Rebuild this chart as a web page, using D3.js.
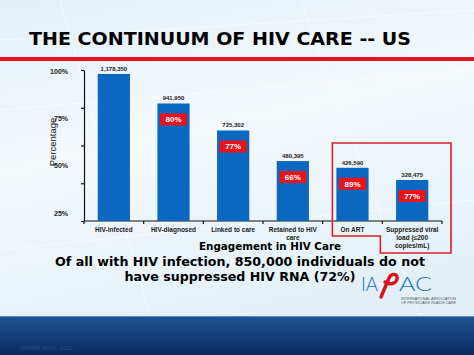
<!DOCTYPE html>
<html><head><meta charset="utf-8">
<script src="https://cdn.jsdelivr.net/npm/d3@7"></script>
<style>html,body{margin:0;padding:0;background:#fff;}svg{display:block;}</style>
</head><body>
<svg id="c" width="474" height="355"></svg>
<script>
// ---- data ----
const categories = ["HIV-infected","HIV-diagnosed","Linked to care","Retained to HIV care","On ART","Suppressed viral load (≤200 copies/mL)"];
const categoryLines = [["HIV-infected"],["HIV-diagnosed"],["Linked to care"],["Retained to HIV","care"],["On ART"],["Suppressed viral","load (≤200","copies/mL)"]];
const counts = [1178350, 941950, 725302, 480395, 426590, 328475];
const stepPercents = ["", "80%", "77%", "66%", "89%", "77%"];
const yTickLabels = ["25%", "50%", "75%", "100%"];
const yTickLabelValues = [0.25, 0.5, 0.75, 1.0];
const titleText = "THE CONTINUUM OF HIV CARE -- US";
const xTitle = "Engagement in HIV Care";
const yTitle = "Percentage";
const noteLines = ["Of all with HIV infection, 850,000 individuals do not", "have suppressed HIV RNA (72%)"];
const sourceText = "MMWR 60(6), 2011";

// ---- layout ----
const svg = d3.select("#c");
const W = 474, H = 355;
const defs = svg.append("defs");
const bg = defs.append("linearGradient").attr("id","bg").attr("x1",0).attr("y1",0).attr("x2",0.3).attr("y2",1);
bg.append("stop").attr("offset","0").attr("stop-color","#e3eff7");
bg.append("stop").attr("offset","0.45").attr("stop-color","#f4f9fc");
bg.append("stop").attr("offset","1").attr("stop-color","#e2eff7");
const ft = defs.append("linearGradient").attr("id","ft").attr("x1",0).attr("y1",0).attr("x2",0).attr("y2",1);
ft.append("stop").attr("offset","0").attr("stop-color","#1d5597");
ft.append("stop").attr("offset","1").attr("stop-color","#0b2a5e");

svg.append("rect").attr("width",W).attr("height",H).attr("fill","url(#bg)");
// faint background lines
const bgLines = svg.append("g").attr("stroke","#ffffff").attr("stroke-opacity",0.6).attr("stroke-width",1);
[[0,40,474,10],[0,110,474,70],[60,0,150,316],[300,0,420,316],[0,250,474,200]].forEach(l=>{
  bgLines.append("line").attr("x1",l[0]).attr("y1",l[1]).attr("x2",l[2]).attr("y2",l[3]);
});

// title
svg.append("text").attr("x",29).attr("y",45).text(titleText)
  .attr("font-family","DejaVu Sans, Liberation Sans, sans-serif").attr("font-weight","bold")
  .attr("font-size",18).attr("fill","#000").attr("textLength",382).attr("lengthAdjust","spacingAndGlyphs");
svg.append("rect").attr("x",0).attr("y",57).attr("width",W).attr("height",4).attr("fill","#e2171f");

// scales
const x0 = 84, x1 = 442, yBase = 221, yTop = 70;
const yMax = 1.027;
const x = d3.scaleBand().domain(categories).range([x0, x1]).paddingInner(0.46).paddingOuter(0.23);
const y = d3.scaleLinear().domain([0, yMax]).range([yBase, yTop]);
const labelY = d3.scaleLinear().domain([0.25, 1]).range([213, 71]);
const share = counts.map(c => c / counts[0]);

// y axis
const yAxis = d3.axisLeft(y).tickValues(d3.range(5).map(i => i * yMax / 4)).tickSize(3).tickSizeOuter(0).tickFormat("");
const gy = svg.append("g").attr("transform",`translate(${x0},0)`).call(yAxis);
gy.selectAll("path,line").attr("stroke","#111").attr("stroke-width",1.2);
const yLab = d3.axisLeft(labelY).tickValues(yTickLabelValues).tickSize(0).tickFormat((d,i)=>yTickLabels[i]);
const gyl = svg.append("g").attr("transform",`translate(71,0)`).call(yLab);
gyl.select(".domain").remove();
gyl.selectAll("text").attr("font-family","Liberation Sans, Arial, sans-serif").attr("font-weight","bold")
  .attr("font-size",7).attr("fill","#222").attr("dx",0);

svg.append("text").attr("transform",`translate(56,142) rotate(-90)`).attr("text-anchor","middle")
  .text(yTitle).attr("font-family","Liberation Sans, Arial, sans-serif").attr("font-size",9.5).attr("fill","#111");

// x axis
const gx = svg.append("g");
gx.append("line").attr("x1",x0).attr("x2",x1).attr("y1",yBase).attr("y2",yBase).attr("stroke","#111").attr("stroke-width",1.2);
gx.selectAll("line.tk").data(d3.range(categories.length + 1)).join("line").attr("class","tk")
  .attr("x1",i => x0 + i * x.step()).attr("x2",i => x0 + i * x.step())
  .attr("y1",yBase).attr("y2",yBase + 3).attr("stroke","#111").attr("stroke-width",1.2);

// bars
svg.selectAll("rect.bar").data(categories).join("rect").attr("class","bar")
  .attr("x",d => x(d)).attr("width",x.bandwidth())
  .attr("y",(d,i) => y(share[i])).attr("height",(d,i) => yBase - y(share[i]))
  .attr("fill","#0b68c1");

// counts above bars
svg.selectAll("text.cnt").data(categories).join("text").attr("class","cnt")
  .attr("x",d => x(d) + x.bandwidth()/2).attr("y",(d,i) => y(share[i]) - 3)
  .attr("text-anchor","middle").text((d,i) => d3.format(",")(counts[i]))
  .attr("font-family","Liberation Sans, Arial, sans-serif").attr("font-weight","bold").attr("font-size",6).attr("fill","#222");

// red badges
const badges = categories.map((c,i)=>({c,i,t:stepPercents[i]})).filter(d => d.t);
const bw = 27, bh = 12;
svg.selectAll("rect.badge").data(badges).join("rect").attr("class","badge")
  .attr("x",d => x(d.c) + x.bandwidth()/2 - bw/2).attr("width",bw)
  .attr("y",d => y(share[d.i]) + 10).attr("height",bh).attr("fill","#e8141c");
svg.selectAll("text.badge").data(badges).join("text").attr("class","badge")
  .attr("x",d => x(d.c) + x.bandwidth()/2).attr("y",d => y(share[d.i]) + 10 + bh/2 + 2.8)
  .attr("text-anchor","middle").text(d => d.t)
  .attr("font-family","Liberation Sans, Arial, sans-serif").attr("font-weight","bold").attr("font-size",8).attr("fill","#fff");

// category labels
const cl = svg.selectAll("text.cat").data(categories).join("text").attr("class","cat")
  .attr("text-anchor","middle").attr("font-family","Liberation Sans, Arial, sans-serif").attr("font-weight","bold")
  .attr("font-size",6.5).attr("fill","#1a1a1a");
cl.each(function(d,i){
  d3.select(this).selectAll("tspan").data(categoryLines[i]).join("tspan")
    .attr("x", x(d) + x.bandwidth()/2).attr("y",(t,j) => 231.5 + j * 8).text(t => t);
});

// highlight box around last two stages
const bxL = x(categories[4]) - 4, bxR = x1 + 9, bxT = y(0.53);
const bxMid = x0 + 5 * x.step() - 2;
svg.append("path").attr("d",`M${bxL},${bxT}H${bxR}V253H${bxMid}V236H${bxL}Z`)
  .attr("fill","none").attr("stroke","#d9222a").attr("stroke-width",1.6);

// x title
svg.append("text").attr("x",270).attr("y",250).attr("text-anchor","middle").text(xTitle)
  .attr("font-family","DejaVu Sans, Liberation Sans, sans-serif").attr("font-weight","bold").attr("font-size",10.5)
  .attr("fill","#000").attr("textLength",142).attr("lengthAdjust","spacingAndGlyphs");

// note
const noteW = [370, 231];
noteLines.forEach((t,i)=>{
  svg.append("text").attr("x",240).attr("y",266 + i*15).attr("text-anchor","middle").text(t)
    .attr("font-family","DejaVu Sans, Liberation Sans, sans-serif").attr("font-weight","bold").attr("font-size",12.6)
    .attr("fill","#000").attr("textLength",noteW[i]).attr("lengthAdjust","spacingAndGlyphs");
});

// logo
const logo = svg.append("g");
logo.append("text").attr("x",361).attr("y",291).text("IA").attr("font-family","Lato, Open Sans, sans-serif")
  .attr("font-weight",300).attr("font-size",20).attr("fill","#2070c0").attr("textLength",17).attr("lengthAdjust","spacingAndGlyphs");
logo.append("path").attr("d","M381,297 C384,290 387,283 389,278 C391,273 398,273 397,279 C396,284 390,285 385,282")
  .attr("fill","none").attr("stroke","#d8141c").attr("stroke-width",3.4).attr("stroke-linecap","round");
logo.append("text").attr("x",399).attr("y",291).text("AC").attr("font-family","Lato, Open Sans, sans-serif")
  .attr("font-weight",300).attr("font-size",20).attr("fill","#2070c0").attr("textLength",33).attr("lengthAdjust","spacingAndGlyphs");
["INTERNATIONAL ASSOCIATION","OF PHYSICIANS IN AIDS CARE"].forEach((t,i)=>{
  logo.append("text").attr("x",401).attr("y",300 + i*4).text(t).attr("font-family","Liberation Sans, Arial, sans-serif")
    .attr("font-size",3.4).attr("fill","#555").attr("textLength",55).attr("lengthAdjust","spacingAndGlyphs");
});

// footer
svg.append("rect").attr("x",0).attr("y",316).attr("width",W).attr("height",H-316).attr("fill","url(#ft)");
svg.append("line").attr("x1",0).attr("x2",W).attr("y1",316.5).attr("y2",316.5).attr("stroke","#5f86b8").attr("stroke-width",1);
svg.append("text").attr("x",20).attr("y",350).text(sourceText).attr("font-family","Liberation Sans, Arial, sans-serif")
  .attr("font-size",6).attr("fill","#2a4c80").attr("textLength",53).attr("lengthAdjust","spacingAndGlyphs");
</script>
</body></html>
